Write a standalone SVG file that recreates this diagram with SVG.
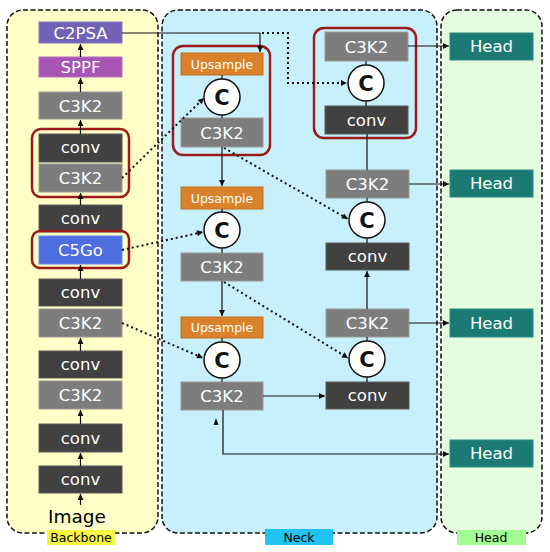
<svg xmlns="http://www.w3.org/2000/svg" width="550" height="552" viewBox="0 0 550 552">
<defs>
<style>
text{font-family:"DejaVu Sans","Liberation Sans",sans-serif;text-anchor:middle}
.t{fill:#fff;font-size:16.5px}
.ts{fill:#fff;font-size:12.5px}
.panel{stroke:#111;stroke-width:1.5;stroke-dasharray:5,2.5}
.c3{fill:#7d7d7d;stroke:#9a9a9a;stroke-width:1}
.cv{fill:#414141;stroke:#5a5a5a;stroke-width:1}
.up{fill:#d9822b;stroke:#c07020;stroke-width:1}
.hd{fill:#1b7b73;stroke:#2c8c84;stroke-width:1}
.cc{fill:#fff;stroke:#111;stroke-width:1.5}
.ct{fill:#111;font-size:21px;font-weight:bold}
.red{fill:none;stroke:#9b1b1b;stroke-width:2.5}
.ln{fill:none;stroke:#111;stroke-width:1.2}
.dt{fill:none;stroke:#111;stroke-width:2;stroke-dasharray:2,3}
.lab{fill:#000;font-size:12.5px}
</style>
<marker id="ah" viewBox="0 0 10 10" refX="10" refY="5" markerWidth="7" markerHeight="6" markerUnits="userSpaceOnUse" orient="auto">
<path d="M0,0 L10,5 L0,10 z" fill="#111"/>
</marker>
</defs>

<!-- panels -->
<g id="panel-backbone">
<rect class="panel" x="7" y="10" width="151" height="523" rx="16" fill="#ffffc8"/>
<rect x="47" y="530" width="68" height="15" fill="#f6f642"/>
<text class="lab" x="81" y="542">Backbone</text>
</g>
<g id="panel-neck">
<rect class="panel" x="162" y="10" width="275" height="523" rx="16" fill="#c8f0fc"/>
<rect x="265" y="529" width="68" height="16" fill="#22c2f2"/>
<text class="lab" x="299" y="542">Neck</text>
</g>
<g id="panel-head">
<rect class="panel" x="441" y="10" width="101" height="523" rx="16" fill="#e6fce0"/>
<rect x="457" y="530" width="69" height="15" fill="#a2fd92"/>
<text class="lab" x="491" y="542">Head</text>
</g>

<!-- backbone nodes -->
<g id="bb-c2psa"><rect x="39" y="22" width="83" height="21" fill="#7162b6" stroke="#8578c4"/><text class="t" x="80.5" y="38.5">C2PSA</text></g>
<g id="bb-sppf"><rect x="39" y="57" width="83" height="20" fill="#a655b3" stroke="#b66cc2"/><text class="t" x="80.5" y="73">SPPF</text></g>
<g id="bb-c3k2-a"><rect class="c3" x="39" y="92" width="83" height="27"/><text class="t" x="80.5" y="111.5">C3K2</text></g>
<g id="bb-conv-a"><rect class="cv" x="39" y="134" width="83" height="28"/><text class="t" x="80.5" y="153">conv</text></g>
<g id="bb-c3k2-b"><rect class="c3" x="39" y="164" width="83" height="28"/><text class="t" x="80.5" y="184">C3K2</text></g>
<g id="bb-conv-b"><rect class="cv" x="39" y="205" width="83" height="27"/><text class="t" x="80.5" y="224">conv</text></g>
<g id="bb-c5go"><rect x="39" y="236" width="83" height="28" fill="#4d6ee0" stroke="#6a86ea"/><text class="t" x="80.5" y="256">C5Go</text></g>
<g id="bb-conv-c"><rect class="cv" x="39" y="279" width="83" height="27"/><text class="t" x="80.5" y="298">conv</text></g>
<g id="bb-c3k2-c"><rect class="c3" x="39" y="309" width="83" height="28"/><text class="t" x="80.5" y="329">C3K2</text></g>
<g id="bb-conv-d"><rect class="cv" x="39" y="351" width="83" height="27"/><text class="t" x="80.5" y="370">conv</text></g>
<g id="bb-c3k2-d"><rect class="c3" x="39" y="381" width="83" height="28"/><text class="t" x="80.5" y="401">C3K2</text></g>
<g id="bb-conv-e"><rect class="cv" x="39" y="424" width="83" height="28"/><text class="t" x="80.5" y="444">conv</text></g>
<g id="bb-conv-f"><rect class="cv" x="39" y="466" width="83" height="27"/><text class="t" x="80.5" y="485">conv</text></g>
<g id="bb-image"><text x="77" y="523" font-size="18.5" fill="#000">Image</text></g>
<g id="bb-red-1"><rect class="red" x="32" y="129" width="97" height="68" rx="9"/></g>
<g id="bb-red-2"><rect class="red" x="32" y="231" width="97" height="37" rx="8"/></g>

<!-- neck left column -->
<g id="nk-up1"><rect class="up" x="181" y="53" width="82" height="22"/><text class="ts" x="222" y="69">Upsample</text></g>
<g id="nk-cat1"><circle class="cc" cx="222" cy="97" r="18"/><text class="ct" x="222" y="104.5">C</text></g>
<g id="nk-c3k2-1"><rect class="c3" x="181" y="118" width="82" height="29"/><text class="t" x="222" y="138.5">C3K2</text></g>
<g id="nk-up2"><rect class="up" x="181" y="187" width="82" height="22"/><text class="ts" x="222" y="203">Upsample</text></g>
<g id="nk-cat2"><circle class="cc" cx="222" cy="230" r="18"/><text class="ct" x="222" y="237.5">C</text></g>
<g id="nk-c3k2-2"><rect class="c3" x="181" y="253" width="82" height="28"/><text class="t" x="222" y="273">C3K2</text></g>
<g id="nk-up3"><rect class="up" x="181" y="317" width="82" height="21"/><text class="ts" x="222" y="332">Upsample</text></g>
<g id="nk-cat3"><circle class="cc" cx="222" cy="360" r="18"/><text class="ct" x="222" y="367.5">C</text></g>
<g id="nk-c3k2-3"><rect class="c3" x="181" y="382" width="82" height="28"/><text class="t" x="222" y="402">C3K2</text></g>
<g id="nk-red-l"><rect class="red" x="173" y="46" width="97" height="109" rx="10"/></g>

<!-- neck right column -->
<g id="nk-c3k2-r1"><rect class="c3" x="325" y="32" width="83" height="29"/><text class="t" x="366.5" y="52.5">C3K2</text></g>
<g id="nk-cat-r1"><circle class="cc" cx="366" cy="83" r="18"/><text class="ct" x="366" y="90.5">C</text></g>
<g id="nk-conv-r1"><rect class="cv" x="325" y="106" width="83" height="28"/><text class="t" x="366.5" y="126">conv</text></g>
<g id="nk-red-r"><rect class="red" x="314" y="28" width="102" height="110" rx="10"/></g>
<g id="nk-c3k2-r2"><rect class="c3" x="326" y="170" width="83" height="28"/><text class="t" x="367.5" y="190">C3K2</text></g>
<g id="nk-cat-r2"><circle class="cc" cx="367" cy="220" r="18"/><text class="ct" x="367" y="227.5">C</text></g>
<g id="nk-conv-r2"><rect class="cv" x="326" y="243" width="83" height="27"/><text class="t" x="367.5" y="262">conv</text></g>
<g id="nk-c3k2-r3"><rect class="c3" x="326" y="309" width="83" height="28"/><text class="t" x="367.5" y="329">C3K2</text></g>
<g id="nk-cat-r3"><circle class="cc" cx="367" cy="359" r="18"/><text class="ct" x="367" y="366.5">C</text></g>
<g id="nk-conv-r3"><rect class="cv" x="326" y="382" width="83" height="27"/><text class="t" x="367.5" y="401">conv</text></g>

<!-- heads -->
<g id="head-1"><rect class="hd" x="450" y="33" width="83" height="27"/><text class="t" x="491.5" y="52">Head</text></g>
<g id="head-2"><rect class="hd" x="450" y="170" width="83" height="27"/><text class="t" x="491.5" y="189">Head</text></g>
<g id="head-3"><rect class="hd" x="450" y="309" width="83" height="28"/><text class="t" x="491.5" y="329">Head</text></g>
<g id="head-4"><rect class="hd" x="450" y="440" width="83" height="27"/><text class="t" x="491.5" y="459">Head</text></g>

<!-- connectors -->
<g id="connectors">
<line class="ln" x1="80.5" y1="505" x2="80.5" y2="494" marker-end="url(#ah)"/>
<line class="ln" x1="80.5" y1="466" x2="80.5" y2="453" marker-end="url(#ah)"/>
<line class="ln" x1="80.5" y1="424" x2="80.5" y2="410" marker-end="url(#ah)"/>
<line class="ln" x1="80.5" y1="351" x2="80.5" y2="338" marker-end="url(#ah)"/>
<line class="ln" x1="80.5" y1="279" x2="80.5" y2="265" marker-end="url(#ah)"/>
<line class="ln" x1="80.5" y1="205" x2="80.5" y2="193" marker-end="url(#ah)"/>
<line class="ln" x1="80.5" y1="134" x2="80.5" y2="120" marker-end="url(#ah)"/>
<line class="ln" x1="80.5" y1="92" x2="80.5" y2="78" marker-end="url(#ah)"/>
<line class="ln" x1="80.5" y1="57" x2="80.5" y2="44" marker-end="url(#ah)"/>
<polyline class="ln" points="122,33 260,33 260,52" marker-end="url(#ah)"/>
<polyline class="dt" points="262,33 288,33 288,83 347,83" marker-end="url(#ah)"/>
<line class="dt" x1="122" y1="178" x2="204" y2="98" marker-end="url(#ah)"/>
<line class="dt" x1="122" y1="250" x2="203" y2="232" marker-end="url(#ah)"/>
<line class="dt" x1="122" y1="323" x2="203" y2="358" marker-end="url(#ah)"/>
<line class="ln" x1="222" y1="75" x2="222" y2="79"/>
<line class="ln" x1="222" y1="115" x2="222" y2="118"/>
<line class="ln" x1="222" y1="147" x2="222" y2="186" marker-end="url(#ah)"/>
<line class="ln" x1="222" y1="209" x2="222" y2="212"/>
<line class="ln" x1="222" y1="248" x2="222" y2="253"/>
<line class="ln" x1="222" y1="281" x2="222" y2="316" marker-end="url(#ah)"/>
<line class="ln" x1="222" y1="338" x2="222" y2="342"/>
<line class="ln" x1="222" y1="378" x2="222" y2="382"/>
<line class="dt" x1="224" y1="148" x2="348" y2="219" marker-end="url(#ah)"/>
<line class="dt" x1="224" y1="282" x2="348" y2="358" marker-end="url(#ah)"/>
<line class="ln" x1="263" y1="396" x2="325" y2="396" marker-end="url(#ah)"/>
<polyline class="ln" points="223,410 223,454 449,454" marker-end="url(#ah)"/>
<path d="M216,418 L213.5,425 L218.5,425 z" fill="#111"/>
<line class="ln" x1="367" y1="382" x2="367" y2="377"/>
<line class="ln" x1="367" y1="341" x2="367" y2="337"/>
<line class="ln" x1="367" y1="309" x2="367" y2="271" marker-end="url(#ah)"/>
<line class="ln" x1="367" y1="243" x2="367" y2="238"/>
<line class="ln" x1="367" y1="202" x2="367" y2="198"/>
<line class="ln" x1="367" y1="170" x2="367" y2="134"/>
<line class="ln" x1="366" y1="106" x2="366" y2="101"/>
<line class="ln" x1="366" y1="65" x2="366" y2="61"/>
<line class="ln" x1="408" y1="46" x2="449" y2="46" marker-end="url(#ah)"/>
<line class="ln" x1="409" y1="184" x2="449" y2="184" marker-end="url(#ah)"/>
<line class="ln" x1="409" y1="323" x2="449" y2="323" marker-end="url(#ah)"/>
</g>
</svg>
